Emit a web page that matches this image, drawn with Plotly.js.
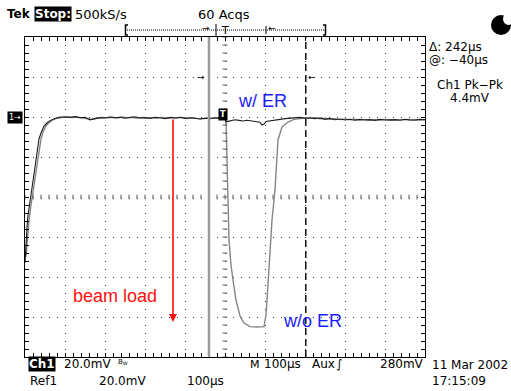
<!DOCTYPE html>
<html>
<head>
<meta charset="utf-8">
<script src="https://cdn.plot.ly/plotly-3.0.1.min.js"></script>
<style>html,body{margin:0;padding:0;background:#fff;}#plot{width:511px;height:391px;}</style>
</head>
<body>
<div id="plot"></div>
<script>
// ---- data (time in µs relative to trigger, voltage in mV relative to screen centre) ----
const tWithER = [-500,-497.5,-495,-492.5,-490,-485,-480,-475,-470,-465,-460,-452.5,-445,-437.5,-425,-412.5,-400,
  -387.5,-375,-362.5,-350,-337.5,-325,-312.5,-300,-287.5,-275,-262.5,-250,-237.5,-225,-212.5,-200,-187.5,-175,
  -162.5,-150,-137.5,-125,-112.5,-100,-87.5,-75,-62.5,-50,-37.5,-25,-12.5,0,
  2.5,7.5,15,25,35,45,55,65,72.5,80,87.5,92.5,97.5,102.5,112.5,125,137.5,150,162.5,175,187.5,200,212.5,225,
  237.5,250,262.5,275,287.5,300,312.5,325,337.5,350,362.5,375,387.5,400,412.5,425,437.5,450,462.5,475,487.5,500];
const vWithER = [-33,-22,-15,-9,-5,1,8,15,23,29,32,35.5,37,38.2,39.3,40,40,
  39.8,40.2,39.6,39.9,38.6,39.2,39.7,39.5,40,39.6,39.9,39.4,39.8,40.1,39.5,39.7,39.3,39.9,
  39.6,39.2,39.8,39.5,39.9,39.3,39.6,39.4,39.0,39.4,39.2,39.6,39.3,39.5,
  37.5,37.8,38.3,38.6,38.3,38.0,38.4,38.1,37.6,37.7,37.4,36.0,36.5,37.8,38.0,38.3,38.8,39.2,39.5,39.6,39.8,39.4,39.6,39.2,
  39.5,38.8,39.3,38.6,39.0,38.5,38.9,38.4,38.8,38.5,38.7,38.3,38.8,38.5,38.6,38.7,38.4,38.9,38.6,38.5,38.8,38.6];

const tWithoutER = [-497.5,-495,-490,-485,-480,-475,-470,-465,-460,-455,-447.5,-440,-432.5,-420,-407.5,
  -395,-382.5,-370,-357.5,-345,-332.5,-320,-307.5,-295,-282.5,-270,-257.5,-245,-232.5,-220,-207.5,-195,-182.5,
  -170,-157.5,-145,-132.5,-120,-107.5,-95,-82.5,-70,-57.5,-45,-32.5,-20,-7.5,0,
  2.5,5,7.5,10,15,20,27.5,37.5,47.5,62.5,80,97.5,102.5,105,108.75,112.5,117.5,125,130,132.5,142.5,157.5,172.5,187.5,200,
  212.5,225,237.5,250,262.5,275,287.5,300,312.5,325,337.5,350,362.5,375,387.5,400,412.5,425,437.5,450,462.5,475,487.5,500];
const vWithoutER = [-30,-22,-12,-4,3,10,17,24,29,32.5,35.5,37.2,38.3,39.4,39.9,
  40.1,39.7,40.0,39.5,39.2,38.8,39.4,39.8,39.6,39.9,39.5,40.0,39.6,39.9,39.4,39.8,39.5,39.7,
  39.3,39.8,39.4,39.7,39.5,39.8,39.2,39.6,39.3,39.1,39.5,39.3,39.5,39.4,39.5,
  39,23.5,-1.5,-21.5,-34,-41.5,-51.5,-59.5,-63,-64.8,-65,-64.8,-59,-51.5,-40,-26.5,-11.5,3.5,18.5,28.5,35,37.5,38.8,39.2,39.5,
  39.3,39.6,39.1,39.4,38.9,39.2,38.7,39.0,38.6,38.9,38.5,38.8,38.4,38.7,38.5,38.8,38.4,38.6,38.5,38.7,38.4,38.6,38.5,38.7];

const seriesNames = ['w/ ER', 'w/o ER'];
const labelText = ['w/ ER', 'w/o ER', 'beam load'];
const labelT = [92.5, 217.5, -275];
const labelV = [48, -62, -49.5];
const cursorT = [-40, 202];
const beamLoadT = -130;
const beamLoadFrom = 39.5;
const beamLoadTo = -62.5;

// ---- geometry ----
const W = 511, H = 391;
const L = 25, R = 425, T = 37, B = 357;
const xRange = [-500, 500], yRange = [-80, 80];
const px = (x) => (x - L) / (R - L);
const py = (y) => (B - y) / (B - T);
const tPerPx = (xRange[1] - xRange[0]) / (R - L);
const vPerPx = (yRange[1] - yRange[0]) / (B - T);

const FONT = 'DejaVu Sans, sans-serif';
const ARIAL = 'Liberation Sans, Arial, sans-serif';

const traces = [
  {x: tWithoutER, y: vWithoutER, name: seriesNames[1], mode: 'lines', line: {color: '#858585', width: 1.4}, hoverinfo: 'skip'},
  {x: tWithER, y: vWithER, name: seriesNames[0], mode: 'lines', line: {color: '#1e1e1e', width: 1.1}, hoverinfo: 'skip'}
];

const shapes = [];
// centre-cross minor ticks
for (let t = xRange[0]; t <= xRange[1]; t += 20) {
  shapes.push({type: 'line', xref: 'x', yref: 'y', x0: t, x1: t, y0: -2.5 * vPerPx, y1: 2.5 * vPerPx, line: {color: '#666', width: 1}});
}
for (let v = yRange[0]; v <= yRange[1]; v += 4) {
  shapes.push({type: 'line', xref: 'x', yref: 'y', x0: -2.5 * tPerPx, x1: 2.5 * tPerPx, y0: v, y1: v, line: {color: '#666', width: 1}});
}
// cursors
shapes.push({type: 'line', xref: 'x', yref: 'paper', x0: cursorT[0], x1: cursorT[0], y0: 0, y1: 1, line: {color: '#9a9a9a', width: 2.5}});
shapes.push({type: 'line', xref: 'x', yref: 'paper', x0: cursorT[1], x1: cursorT[1], y0: 0, y1: 1, line: {color: '#000', width: 1.4, dash: '7px,4px'}});
// record bar
shapes.push({type: 'line', xref: 'paper', yref: 'paper', x0: px(127), x1: px(324), y0: py(30), y1: py(30), line: {color: '#000', width: 1, dash: '1px,1px'}});
shapes.push({type: 'path', xref: 'paper', yref: 'paper', path: `M ${px(128)} ${py(25)} H ${px(125.5)} V ${py(35)} H ${px(128)}`, line: {color: '#000', width: 1.5}});
shapes.push({type: 'path', xref: 'paper', yref: 'paper', path: `M ${px(323)} ${py(25)} H ${px(325.5)} V ${py(35)} H ${px(323)}`, line: {color: '#000', width: 1.5}});
shapes.push({type: 'line', xref: 'paper', yref: 'paper', x0: px(216), x1: px(216), y0: py(24), y1: py(36), line: {color: '#000', width: 1}});
shapes.push({type: 'line', xref: 'paper', yref: 'paper', x0: px(266), x1: px(266), y0: py(26), y1: py(34), line: {color: '#000', width: 1}});
// Tek activity circle
shapes.push({type: 'circle', xref: 'paper', yref: 'paper', x0: px(491), x1: px(511), y0: py(35), y1: py(15), fillcolor: '#000', line: {width: 0}});
shapes.push({type: 'circle', xref: 'paper', yref: 'paper', x0: px(503), x1: px(514), y0: py(25), y1: py(13), fillcolor: '#fff', line: {width: 0}});

function txt(text, x, y, opts) {
  return Object.assign({xref: 'paper', yref: 'paper', x: px(x), y: py(y), text: text, showarrow: false,
    xanchor: 'left', yanchor: 'middle', font: {family: FONT, size: 12, color: '#000'}}, opts || {});
}
const F13 = {family: FONT, size: 13, color: '#000'};

const annotations = [
  txt('<b>Tek</b>', 5, 14, {font: {family: FONT, size: 12, color: '#000'}}),
  txt('<b>Stop:</b>', 34, 14, {bgcolor: '#000', font: {family: FONT, size: 12, color: '#fff'}, borderpad: 0}),
  txt('500kS/s', 73, 14, {font: F13}),
  txt('60 Acqs', 224, 14, {xanchor: 'center', font: F13}),
  txt('T', 225, 31, {xanchor: 'center', font: {family: FONT, size: 11, color: '#000'}}),
  txt('→', 212, 28, {xanchor: 'right', font: {family: FONT, size: 9, color: '#000'}}),
  txt('←', 266, 28, {xanchor: 'left', font: {family: FONT, size: 9, color: '#000'}}),
  txt('Δ: 242µs', 427, 47),
  txt('@: −40µs', 427, 60),
  txt('Ch1 Pk−Pk', 470, 85, {xanchor: 'center'}),
  txt('4.4mV', 470, 98, {xanchor: 'center'}),
  txt('1→', 7, 117, {bgcolor: '#000', font: {family: FONT, size: 8, color: '#fff'}, borderpad: 1}),
  txt('<b>T</b>', 223, 114, {xanchor: 'center', bgcolor: '#000', font: {family: FONT, size: 8, color: '#fff'}, borderpad: 1}),
  txt('→', 207, 77, {xanchor: 'right', font: {family: FONT, size: 9, color: '#000'}}),
  txt('←', 306, 77, {xanchor: 'left', font: {family: FONT, size: 9, color: '#000'}}),
  txt('<b>Ch1</b>', 28, 364, {bgcolor: '#000', font: {family: FONT, size: 12, color: '#fff'}, borderpad: 0}),
  txt('20.0mV', 62, 364),
  txt('B<sub>W</sub>', 116, 362, {font: {family: FONT, size: 7, color: '#000'}}),
  txt('M', 248, 364, {font: {family: FONT, size: 11, color: '#000'}}),
  txt('100µs', 262, 364),
  txt('Aux', 310, 364),
  txt('∫', 334, 364),
  txt('280mV', 378, 364),
  txt('11 Mar 2002', 430, 365),
  txt('17:15:09', 430, 381),
  txt('Ref1', 28, 381),
  txt('20.0mV', 97, 381),
  txt('100µs', 185, 381),
  // data labels
  {xref: 'x', yref: 'y', x: labelT[0], y: labelV[0], text: labelText[0], showarrow: false, xanchor: 'center', yanchor: 'middle',
   font: {family: ARIAL, size: 18, color: '#1c1cff'}},
  {xref: 'x', yref: 'y', x: labelT[1], y: labelV[1], text: labelText[1], showarrow: false, xanchor: 'center', yanchor: 'middle',
   font: {family: ARIAL, size: 18, color: '#1c1cff'}},
  {xref: 'x', yref: 'y', x: labelT[2], y: labelV[2], text: labelText[2], showarrow: false, xanchor: 'center', yanchor: 'middle',
   font: {family: ARIAL, size: 18, color: '#ff1010'}},
  {xref: 'x', yref: 'y', axref: 'x', ayref: 'y', x: beamLoadT, y: beamLoadTo, ax: beamLoadT, ay: beamLoadFrom, text: '',
   showarrow: true, arrowhead: 2, arrowsize: 1, arrowwidth: 1.6, arrowcolor: '#ff1010'}
];

const axisCommon = {
  showline: true, linecolor: '#000', linewidth: 1, mirror: 'allticks',
  ticks: 'inside', ticklen: 4, tickcolor: '#000', tickwidth: 1,
  showticklabels: false, zeroline: false, fixedrange: true,
  showgrid: true, gridcolor: '#333', gridwidth: 1, griddash: '1px,7px'
};

const layout = {
  width: W, height: H, autosize: false,
  margin: {l: L, r: W - R, t: T, b: H - B, pad: 0},
  paper_bgcolor: '#fff', plot_bgcolor: '#fff',
  showlegend: false,
  xaxis: Object.assign({}, axisCommon, {range: xRange, dtick: 100, tick0: 0,
    minor: {dtick: 20, ticks: 'inside', ticklen: 4, tickcolor: '#000', showgrid: false}}),
  yaxis: Object.assign({}, axisCommon, {range: yRange, dtick: 20, tick0: 0,
    minor: {dtick: 4, ticks: 'inside', ticklen: 4, tickcolor: '#000', showgrid: false}}),
  shapes: shapes,
  annotations: annotations
};

Plotly.newPlot('plot', traces, layout, {staticPlot: true, displayModeBar: false});
</script>
</body>
</html>
